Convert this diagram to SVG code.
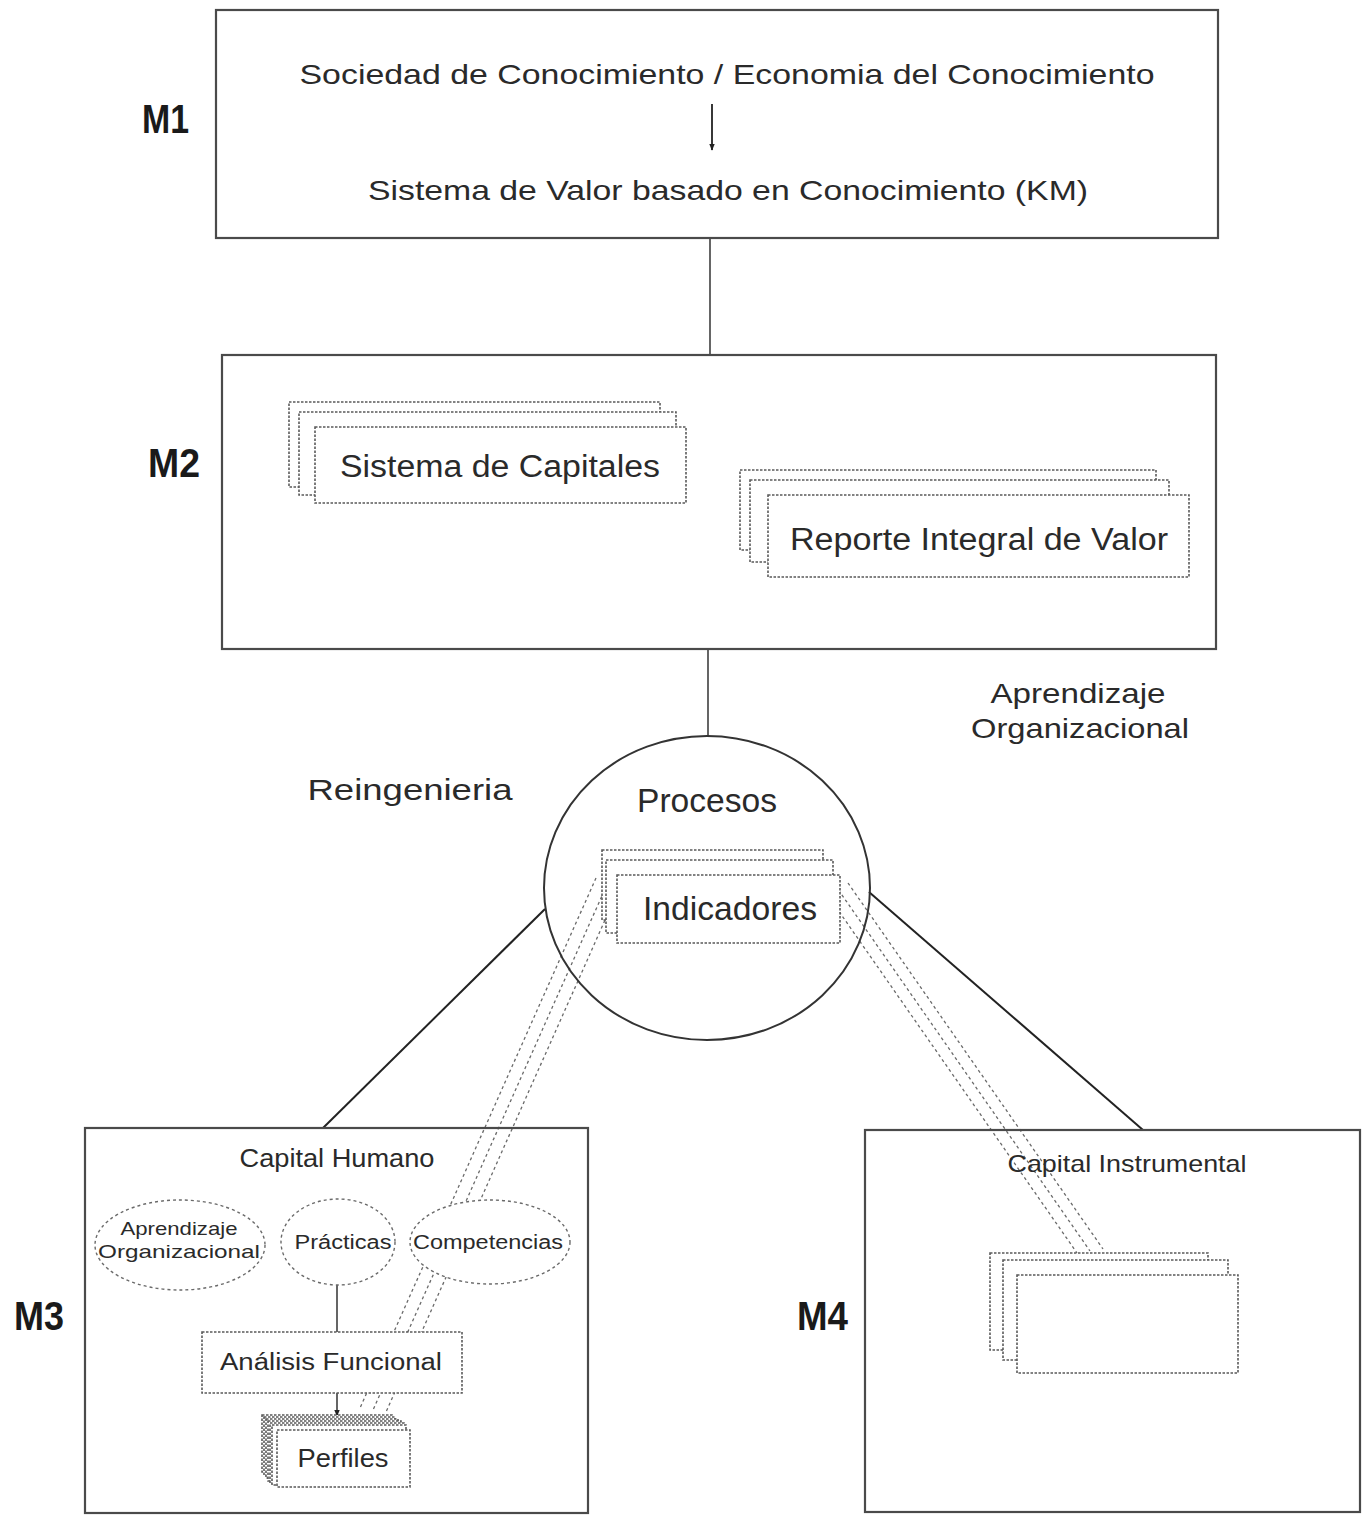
<svg xmlns="http://www.w3.org/2000/svg" width="1362" height="1517" viewBox="0 0 1362 1517">
  <style>
    .frame { fill: #ffffff; stroke: #4a4a4a; stroke-width: 2.2; }
    .open { fill: none; }
    .card { fill: #ffffff; stroke: #5a5a5a; stroke-width: 1.6; stroke-dasharray: 2.5 1.5; }
    .oval { fill: #ffffff; stroke: #6a6a6a; stroke-width: 1.4; stroke-dasharray: 3 3; }
    .wire { fill: none; stroke: #555555; stroke-width: 1.8; }
    .solid { fill: none; stroke: #222222; stroke-width: 2; }
    .band { fill: none; stroke: #6a6a6a; stroke-width: 1.3; stroke-dasharray: 3 3; }
    .lbl { font-family: "Liberation Sans", Arial, sans-serif; fill: #2a2a2a; }
    .tag { font-family: "Liberation Sans", Arial, sans-serif; font-weight: bold; fill: #1a1a1a; font-size: 40px; }
  </style>
  <defs>
    <marker id="head" viewBox="0 0 10 10" refX="9" refY="5" markerWidth="7" markerHeight="7" orient="auto" markerUnits="userSpaceOnUse">
      <path d="M0,1 L10,5 L0,9 Z" fill="#222"/>
    </marker>
  </defs>

  <rect width="1362" height="1517" fill="#ffffff"/>

  <!-- level labels -->
  <g id="tags">
    <text class="tag" x="142" y="133" textLength="47" lengthAdjust="spacingAndGlyphs">M1</text>
    <text class="tag" x="148" y="477" textLength="52" lengthAdjust="spacingAndGlyphs">M2</text>
    <text class="tag" x="14" y="1330" textLength="50" lengthAdjust="spacingAndGlyphs">M3</text>
    <text class="tag" x="797" y="1330" textLength="51" lengthAdjust="spacingAndGlyphs">M4</text>
  </g>

  <!-- connectors (drawn first so the nodes cover their ends) -->
  <g id="connectors">
    <line class="wire" x1="710" y1="238" x2="710" y2="355"/>
    <line class="wire" x1="708" y1="649" x2="708" y2="736"/>
    <polyline class="wire" points="519,503 519,531 740,531"/>
    <line class="solid" x1="545" y1="909" x2="323" y2="1128"/>
    <line class="solid" x1="869" y1="892" x2="1143" y2="1130"/>
    <line class="wire" x1="337" y1="1285" x2="337" y2="1332"/>
    <line class="wire" x1="337" y1="1393" x2="337" y2="1416" marker-end="url(#head)"/>
  </g>

  <g id="m1">
    <rect class="frame" x="216" y="10" width="1002" height="228"/>
    <text class="lbl" x="727" y="84" font-size="28" text-anchor="middle" textLength="855" lengthAdjust="spacingAndGlyphs">Sociedad de Conocimiento / Economia del Conocimiento</text>
    <line x1="712" y1="104" x2="712" y2="150" stroke="#222" stroke-width="1.8" marker-end="url(#head)"/>
    <text class="lbl" x="728" y="200" font-size="28" text-anchor="middle" textLength="720" lengthAdjust="spacingAndGlyphs">Sistema de Valor basado en Conocimiento (KM)</text>
  </g>

  <g id="m2">
    <rect class="frame" x="222" y="355" width="994" height="294"/>
  </g>

  <g id="sistema-capitales">
    <rect class="card" x="289" y="402" width="371" height="85"/>
    <rect class="card" x="299" y="412" width="377" height="83"/>
    <rect class="card" x="315" y="427" width="371" height="76"/>
    <text class="lbl" x="500" y="477" font-size="31" text-anchor="middle" textLength="320" lengthAdjust="spacingAndGlyphs">Sistema de Capitales</text>
  </g>

  <g id="reporte-integral">
    <rect class="card" x="740" y="470" width="416" height="80"/>
    <rect class="card" x="750" y="480" width="419" height="82"/>
    <rect class="card" x="768" y="495" width="421" height="82"/>
    <text class="lbl" x="979" y="550" font-size="31" text-anchor="middle" textLength="378" lengthAdjust="spacingAndGlyphs">Reporte Integral de Valor</text>
  </g>

  <g id="side-labels">
    <text class="lbl" x="410" y="800" font-size="30" text-anchor="middle" textLength="205" lengthAdjust="spacingAndGlyphs">Reingenieria</text>
    <text class="lbl" x="1078" y="703" font-size="28" text-anchor="middle" textLength="175" lengthAdjust="spacingAndGlyphs">Aprendizaje</text>
    <text class="lbl" x="1080" y="738" font-size="28" text-anchor="middle" textLength="218" lengthAdjust="spacingAndGlyphs">Organizacional</text>
  </g>

  <!-- dotted bands leading out of the indicator stack -->
  <g id="bands">
    <line class="band" x1="596" y1="878" x2="360" y2="1408"/>
    <line class="band" x1="609" y1="880" x2="373" y2="1410"/>
    <line class="band" x1="622" y1="882" x2="386" y2="1412"/>
    <line class="band" x1="822" y1="887" x2="1077" y2="1253"/>
    <line class="band" x1="835" y1="885" x2="1090" y2="1251"/>
    <line class="band" x1="848" y1="883" x2="1103" y2="1249"/>
  </g>

  <g id="procesos">
    <ellipse cx="707" cy="888" rx="163" ry="152" fill="none" stroke="#333" stroke-width="2"/>
    <text class="lbl" x="707" y="812" font-size="33" text-anchor="middle" textLength="140" lengthAdjust="spacingAndGlyphs">Procesos</text>
  </g>

  <g id="indicadores">
    <rect class="card" x="602" y="850" width="221" height="70"/>
    <rect class="card" x="606" y="860" width="227" height="73"/>
    <rect class="card" x="617" y="875" width="223" height="68"/>
    <text class="lbl" x="730" y="920" font-size="33" text-anchor="middle" textLength="174" lengthAdjust="spacingAndGlyphs">Indicadores</text>
  </g>

  <g id="m3">
    <rect class="frame open" x="85" y="1128" width="503" height="385"/>
    <text class="lbl" x="337" y="1167" font-size="25" text-anchor="middle" textLength="195" lengthAdjust="spacingAndGlyphs">Capital Humano</text>
  </g>

  <g id="aprendizaje">
    <ellipse class="oval" cx="180" cy="1245" rx="85" ry="45"/>
    <text class="lbl" x="179" y="1235" font-size="19" text-anchor="middle" textLength="117" lengthAdjust="spacingAndGlyphs">Aprendizaje</text>
    <text class="lbl" x="179" y="1258" font-size="19" text-anchor="middle" textLength="162" lengthAdjust="spacingAndGlyphs">Organizacional</text>
  </g>

  <g id="practicas">
    <ellipse class="oval" cx="338" cy="1242" rx="57" ry="43"/>
    <text class="lbl" x="343" y="1249" font-size="20" text-anchor="middle" textLength="97" lengthAdjust="spacingAndGlyphs">Prácticas</text>
  </g>

  <g id="competencias">
    <ellipse class="oval" cx="490" cy="1242" rx="80" ry="42"/>
    <text class="lbl" x="488" y="1249" font-size="20" text-anchor="middle" textLength="150" lengthAdjust="spacingAndGlyphs">Competencias</text>
  </g>

  <g id="analisis">
    <rect class="card" x="202" y="1332" width="260" height="61"/>
    <text class="lbl" x="331" y="1370" font-size="23" text-anchor="middle" textLength="222" lengthAdjust="spacingAndGlyphs">Análisis Funcional</text>
  </g>

  <g id="perfiles">
    <rect class="card" x="262" y="1415" width="130" height="57"/>
    <rect class="card" x="264" y="1417" width="131" height="58"/>
    <rect class="card" x="266" y="1419" width="132" height="59"/>
    <rect class="card" x="268" y="1421" width="133" height="60"/>
    <rect class="card" x="270" y="1423" width="134" height="60"/>
    <rect class="card" x="272" y="1425" width="134" height="60"/>
    <rect class="card" x="277" y="1430" width="133" height="57"/>
    <text class="lbl" x="343" y="1467" font-size="25" text-anchor="middle" textLength="91" lengthAdjust="spacingAndGlyphs">Perfiles</text>
  </g>

  <g id="m4">
    <rect class="frame open" x="865" y="1130" width="495" height="382"/>
    <text class="lbl" x="1127" y="1172" font-size="24" text-anchor="middle" textLength="239" lengthAdjust="spacingAndGlyphs">Capital Instrumental</text>
  </g>

  <g id="instrumental-stack">
    <rect class="card" x="990" y="1253" width="218" height="97"/>
    <rect class="card" x="1003" y="1260" width="225" height="100"/>
    <rect class="card" x="1017" y="1275" width="221" height="98" stroke-dasharray="none" stroke="#333" stroke-width="2"/>
  </g>
</svg>
